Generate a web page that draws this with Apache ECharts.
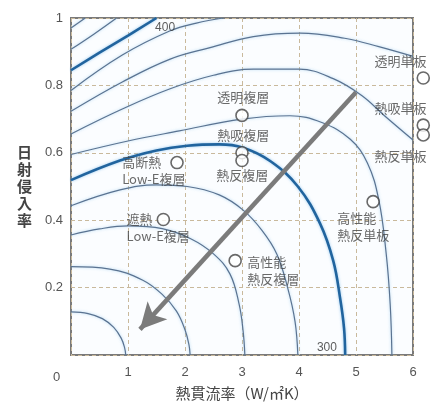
<!DOCTYPE html>
<html><head><meta charset="utf-8">
<script src="https://cdn.jsdelivr.net/npm/echarts@6/dist/echarts.min.js"></script>
<style>html,body{margin:0;padding:0;background:#fff}#c{width:434px;height:406px}</style>
</head><body><div id="c"></div>
<script>
// ---- data ----
const xTicks = [0, 1, 2, 3, 4, 5, 6];
const yTicks = [0, 0.2, 0.4, 0.6, 0.8, 1];
const contour220 = [[0,0.128],[0.3,0.123],[0.55,0.108],[0.75,0.082],[0.88,0.05],[0.94,0.022],[0.96,0]];
const contour240 = [[0,0.262],[0.68,0.255],[1.26,0.222],[1.6,0.18],[1.85,0.13],[2.0,0.075],[2.07,0.03],[2.09,0]];
const contour260 = [[0,0.356],[0.5,0.374],[1.0,0.383],[1.6,0.375],[2.1,0.345],[2.5,0.3],[2.79,0.24],[2.95,0.15],[3.02,0.07],[3.05,0]];
const contour280 = [[0,0.443],[0.86,0.49],[1.5,0.505],[2.04,0.5],[2.6,0.475],[3.02,0.43],[3.35,0.37],[3.61,0.3],[3.8,0.2],[3.93,0.1],[3.98,0]];
const contour300 = [[0,0.519],[0.86,0.577],[1.5,0.607],[2.04,0.621],[2.6,0.625],[3.02,0.615],[3.5,0.575],[3.98,0.5],[4.37,0.39],[4.6,0.28],[4.72,0.17],[4.79,0.08],[4.81,0]];
const contour320 = [[0,0.595],[1.0,0.635],[1.9,0.665],[3.0,0.7],[3.84,0.71],[4.4,0.69],[4.9,0.64],[5.2,0.57],[5.4,0.46],[5.53,0.3],[5.6,0.15],[5.63,0]];
const contour340 = [[0,0.656],[0.9,0.73],[1.74,0.79],[2.5,0.83],[3.2,0.848],[4.0,0.848],[4.6,0.82],[5.1,0.77],[5.5,0.71],[6,0.638]];
const contour360 = [[0,0.723],[0.9,0.81],[1.74,0.878],[2.44,0.912],[3.2,0.945],[4.02,0.955],[4.8,0.94],[5.4,0.915],[6,0.886]];
const contour380 = [[0,0.785],[0.9,0.89],[1.74,0.962],[2.2,0.985],[2.67,1.0]];
const contour400 = [[0,0.845],[0.5,0.897],[1.0,0.948],[1.5,1.0]];
const contour420 = [[0,0.907],[0.4,0.952],[0.8,1.0]];
const contour440 = [[0,0.97],[0.25,1.0]];
const thinContours = [contour220, contour240, contour260, contour280, contour320, contour340, contour360, contour380, contour420, contour440];
const thickContours = [contour300, contour400];
const thickLabels = ['300', '400'];
const thickLabelAt = [[4.49, 0.023], [1.65, 0.971]];
const glassNames = ['透明単板', '熱吸単板', '熱反単板', '高性能\n熱反単板', '透明複層', '熱吸複層', '熱反複層', '高性能\n熱反複層', '高断熱\nLow-E複層', '遮熱\nLow-E複層'];
const glassU = [6.18, 6.18, 6.18, 5.3, 3.0, 3.0, 3.0, 2.88, 1.86, 1.62];
const glassEta = [0.822, 0.682, 0.653, 0.455, 0.711, 0.60, 0.577, 0.28, 0.571, 0.402];
const arrowFrom = [5.0, 0.78];
const arrowTo = [1.21, 0.076];
const xAxisName = '熱貫流率（W/㎡K）';
const yAxisName = '日射侵入率';

// ---- label placement (styling), offsets from the marker's box ----
const labelStyle = {
  '透明単板': {position: [-42, -19]},
  '熱吸単板': {position: [-42, -19]},
  '熱反単板': {position: [-42, 19]},
  '高性能\n熱反単板': {position: [-29, 15]},
  '透明複層': {position: [-18, -20]},
  '熱吸複層': {position: [-18, -19]},
  '熱反複層': {position: [-19, 13]},
  '高性能\n熱反複層': {position: [19, 0]},
  '高断熱\nLow-E複層': {position: [-48, -2]},
  '遮熱\nLow-E複層': {position: [-30, -2]}
};

const chart = echarts.init(document.getElementById('c'), null, {renderer: 'canvas'});
const JP = '"Noto Sans CJK JP", "Liberation Sans", sans-serif';
const series = [];
thinContours.forEach(c => {
  series.push({type: 'line', data: c, smooth: 0.4, symbol: 'none', silent: true, clip: true,
    lineStyle: {color: '#5a7391', width: 1.2, shadowColor: 'rgba(150,200,235,0.8)', shadowBlur: 3}, z: 2});
});
thickContours.forEach(c => {
  series.push({type: 'line', data: c, smooth: 0.4, symbol: 'none', silent: true, clip: true,
    lineStyle: {color: '#21649e', width: 2.6, shadowColor: 'rgba(130,190,235,0.8)', shadowBlur: 3}, z: 3});
});
series.push({type: 'scatter', data: thickLabels.map((t, i) => ({value: thickLabelAt[i], name: t})),
  symbolSize: 0, silent: true, z: 6,
  label: {show: true, position: 'inside', formatter: p => p.name, fontFamily: 'Liberation Sans', fontSize: 12, color: '#333'}});
series.push({type: 'scatter', silent: true, z: 8,
  data: glassNames.map((n, i) => ({value: [glassU[i], glassEta[i]], name: n,
    label: Object.assign({show: true}, labelStyle[n])})),
  symbol: 'circle', symbolSize: 12, clip: false,
  itemStyle: {color: '#fff', borderColor: '#444', borderWidth: 1.6},
  label: {formatter: p => p.name, fontFamily: JP, fontSize: 13, lineHeight: 17, color: '#444', align: 'left', verticalAlign: 'top'}});
series.push({type: 'line', data: [], silent: true, z: 7,
  markLine: {silent: true, symbol: ['none', 'arrow'], symbolSize: [20, 26], animation: false,
    lineStyle: {color: '#7b7b7b', width: 4.5, type: 'solid'}, label: {show: false},
    data: [[{coord: arrowFrom}, {coord: arrowTo}]]}});

chart.setOption({
  animation: false,
  backgroundColor: '#fff',
  grid: {left: 71, right: 21, top: 18, bottom: 45, show: true, borderColor: '#7a7a7a', borderWidth: 2, backgroundColor: '#fbfdff'},
  xAxis: {type: 'value', min: 0, max: 6, interval: 1, name: xAxisName, nameLocation: 'middle', nameGap: 31,
    nameTextStyle: {fontFamily: JP, fontSize: 15, color: '#444'},
    axisLine: {show: false}, axisTick: {show: false},
    axisLabel: {fontFamily: 'Liberation Sans', fontSize: 13, color: '#555', margin: 11, formatter: v => v === 0 ? '' : String(v)},
    splitLine: {show: true, lineStyle: {color: '#c9b99c', type: [4, 3], width: 1}}},
  yAxis: {type: 'value', min: 0, max: 1, interval: 0.2, name: yAxisName.split('').join('\n'), nameLocation: 'middle', nameGap: 39, nameRotate: 0,
    nameTextStyle: {fontFamily: JP, fontSize: 15, lineHeight: 17, color: '#444', fontWeight: 'bold'},
    axisLine: {show: false}, axisTick: {show: false},
    axisLabel: {fontFamily: 'Liberation Sans', fontSize: 13, color: '#555', margin: 8, formatter: v => v === 0 ? '' : String(Math.round(v * 10) / 10)},
    splitLine: {show: true, lineStyle: {color: '#c9b99c', type: [4, 3], width: 1}}},
  graphic: [{type: 'text', left: 53, top: 371, style: {text: '0', font: '13px "Liberation Sans"', fill: '#555'}}],
  series: series
});
</script></body></html>
